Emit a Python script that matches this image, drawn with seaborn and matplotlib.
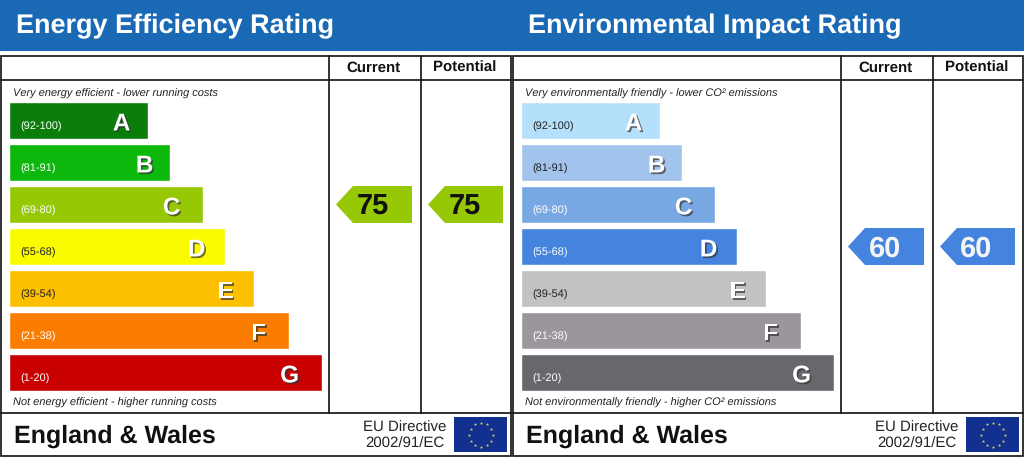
import numpy as np
import pandas as pd
import matplotlib
matplotlib.use('Agg')
import matplotlib.pyplot as plt
import matplotlib.patheffects as pe
from matplotlib.patches import Polygon, Rectangle
import seaborn as sns

# values
bands = ['A', 'B', 'C', 'D', 'E', 'F', 'G']
ranges = ['(92-100)', '(81-91)', '(69-80)', '(55-68)', '(39-54)', '(21-38)', '(1-20)']
bar_lengths = [139, 161, 194, 216, 245, 280, 313]

energy_colors = ['#0a7d0a', '#0cb80c', '#96c805', '#fbfb00', '#fdc000', '#fb7d00', '#c80000']
energy_range_colors = ['white', 'white', 'white', '#222222', '#222222', 'white', 'white']
env_colors = ['#b5e0fb', '#a2c4ec', '#78a8e4', '#4484de', '#c3c1c4', '#9a969b', '#69676b']
env_range_colors = ['#222222', '#222222', 'white', 'white', '#222222', 'white', 'white']

energy_score = 75
energy_score_band = 'C'
env_score = 60
env_score_band = 'D'

W, H = 1024, 457
BLUE = '#1a69b5'
LETTER_X = [113, 136, 163, 188, 217, 250, 281]

sns.set_theme(style='white')
plt.rcParams['font.family'] = ['Liberation Sans', 'DejaVu Sans']
plt.rcParams['text.hinting'] = 'none'
plt.rcParams['text.hinting_factor'] = 1


def px_axes(fig, x0, y0, x1, y1):
    # axes placed using pixel edges of the picture, y going down
    return fig.add_axes([x0 / W, 1 - y1 / H, (x1 - x0) / W, (y1 - y0) / H])


def draw_bars(fig, x0, colors, range_colors):
    ax = px_axes(fig, x0, 99.5, x0 + 313, 393.5)
    df = pd.DataFrame({'band': bands, 'length': bar_lengths})
    sns.barplot(data=df, x='length', y='band', hue='band', palette=colors, saturation=1,
                width=0.89, legend=False, dodge=False, ax=ax)
    ax.set_xlim(0, 313)
    ax.set_ylim(6.5, -0.5)
    ax.axis('off')
    for i, rng in enumerate(ranges):
        ax.text(12, i + 0.14, rng, fontsize=8, color=range_colors[i], va='center', ha='left')
        ax.text(LETTER_X[i], i + 0.03, bands[i], fontsize=17.5, fontweight='bold', color='white',
                va='center_baseline', ha='center',
                path_effects=[pe.SimplePatchShadow(offset=(1.2, -1.2), shadow_rgbFace='#333333', alpha=0.7), pe.Normal()])


def draw_arrow(ax, x0, x1, band, score, color, text_color):
    top = 186 + 42 * (bands.index(band) - 2)
    bot = top + 37
    mid = (top + bot) / 2
    ax.add_patch(Polygon([(x0, mid), (x0 + 17, top), (x1, top), (x1, bot), (x0 + 17, bot)],
                         closed=True, facecolor=color, edgecolor='none', zorder=3))
    ax.text((x0 + x1) / 2 - 1, mid, str(score), fontsize=21, fontweight='bold', color=text_color,
            ha='center', va='center_baseline', zorder=4)


def draw_flag(ax, x0):
    ax.add_patch(Rectangle((x0, 417), 53, 35, facecolor='#12308f', edgecolor='none', zorder=3))
    cx, cy = x0 + 27, 434.5
    ang = np.arange(12) * np.pi / 6
    ax.scatter(cx + 12 * np.cos(ang), cy + 12 * np.sin(ang), s=6, marker='*', color='#e8d840',
               linewidths=0, zorder=4)


def draw_panel(ax, x0, title, top_note, bottom_note, score, band, color, text_color):
    lw = 1.2
    line = '#111111'
    # banner title and frame
    ax.text(x0 + 15, 26.5, title, fontsize=19.7, fontweight='bold', color='white', va='center', ha='left')
    ax.add_patch(Rectangle((x0, 55.5), 510, 400.5, facecolor='white', edgecolor=line, linewidth=lw, zorder=2))
    ax.plot([x0, x0 + 510], [79.5, 79.5], color=line, lw=lw, zorder=2.5)
    ax.plot([x0, x0 + 510], [412.5, 412.5], color=line, lw=lw, zorder=2.5)
    for cx in (327.5, 419.5):
        ax.plot([x0 + cx, x0 + cx], [55.5, 412.5], color=line, lw=lw, zorder=2.5)
    ax.text(x0 + 372, 72, 'Current', fontsize=10.5, fontweight='bold', color=line, ha='center', va='baseline', zorder=4)
    ax.text(x0 + 463.5, 72, 'Potential', fontsize=10.5, fontweight='bold', color=line, ha='center', va='baseline', zorder=4)
    ax.text(x0 + 12, 94, top_note, fontsize=7.9, style='italic', color='#222222', ha='left', va='center', zorder=4)
    ax.text(x0 + 12, 402.5, bottom_note, fontsize=7.9, style='italic', color='#222222', ha='left', va='center', zorder=4)
    ax.text(x0 + 13, 436, 'England & Wales', fontsize=18.3, fontweight='bold', color=line, ha='left', va='center', zorder=4)
    ax.text(x0 + 403.5, 436, 'EU Directive\n2002/91/EC', fontsize=10.5, color='#222222', ha='center', va='center',
            linespacing=1.25, zorder=4)
    draw_flag(ax, x0 + 453)
    draw_arrow(ax, x0 + 335, x0 + 411, band, score, color, text_color)
    draw_arrow(ax, x0 + 427, x0 + 502, band, score, color, text_color)


fig = plt.figure(figsize=(W / 100, H / 100), dpi=100)
base = fig.add_axes([0, 0, 1, 1])
base.set_xlim(0, W)
base.set_ylim(H, 0)
base.axis('off')
base.add_patch(Rectangle((0, 0), W, 51, facecolor=BLUE, edgecolor='none'))

draw_panel(base, 1, 'Energy Efficiency Rating', 'Very energy efficient - lower running costs',
           'Not energy efficient - higher running costs', energy_score, energy_score_band, energy_colors[2], '#111111')
draw_panel(base, 513, 'Environmental Impact Rating', 'Very environmentally friendly - lower CO² emissions',
           'Not environmentally friendly - higher CO² emissions', env_score, env_score_band, env_colors[3], '#f4f4f4')

draw_bars(fig, 8.5, energy_colors, energy_range_colors)
draw_bars(fig, 520.5, env_colors, env_range_colors)

fig.savefig('out.png', dpi=100)
